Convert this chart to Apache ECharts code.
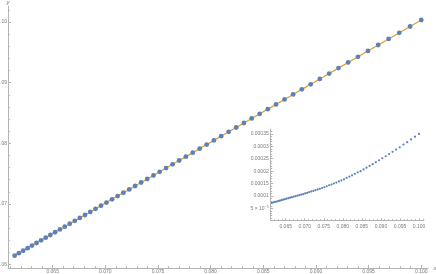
<!DOCTYPE html>
<html>
<head>
<meta charset="utf-8">
<script src="https://cdn.jsdelivr.net/npm/echarts@6/dist/echarts.min.js"></script>
<style>
html,body{margin:0;padding:0;background:#fff;}
#c{width:436px;height:274px;}
</style>
</head>
<body>
<div id="c"></div>
<script>
// ---- data ----
const xs = [0.06139, 0.06179, 0.06220, 0.06262, 0.06304, 0.06347, 0.06390, 0.06434, 0.06478, 0.06523,
  0.06569, 0.06615, 0.06662, 0.06710, 0.06758, 0.06807, 0.06857, 0.06907, 0.06959, 0.07011,
  0.07064, 0.07117, 0.07172, 0.07227, 0.07283, 0.07340, 0.07398, 0.07457, 0.07516, 0.07577,
  0.07639, 0.07701, 0.07765, 0.07830, 0.07896, 0.07963, 0.08031, 0.08100, 0.08171, 0.08243,
  0.08316, 0.08390, 0.08466, 0.08543, 0.08621, 0.08702, 0.08783, 0.08866, 0.08950, 0.09037,
  0.09125, 0.09214, 0.09306, 0.09399, 0.09494, 0.09591, 0.09690, 0.09791, 0.09894, 0.10000];
const mainY = [0.06146, 0.06186, 0.06228, 0.06270, 0.06312, 0.06355, 0.06398, 0.06443, 0.06487, 0.06532,
  0.06578, 0.06624, 0.06672, 0.06720, 0.06768, 0.06817, 0.06867, 0.06918, 0.06970, 0.07022,
  0.07075, 0.07129, 0.07184, 0.07239, 0.07295, 0.07353, 0.07411, 0.07470, 0.07530, 0.07591,
  0.07653, 0.07716, 0.07780, 0.07845, 0.07912, 0.07979, 0.08048, 0.08117, 0.08189, 0.08261,
  0.08335, 0.08410, 0.08486, 0.08564, 0.08642, 0.08724, 0.08806, 0.08890, 0.08974, 0.09062,
  0.09151, 0.09241, 0.09334, 0.09428, 0.09524, 0.09622, 0.09722, 0.09824, 0.09928, 0.10035];
const insetY = [0.000072, 0.000074, 0.000076, 0.000077, 0.000079, 0.000081, 0.000083, 0.000085, 0.000087, 0.000089,
  0.000091, 0.000093, 0.000095, 0.000097, 0.000099, 0.000101, 0.000103, 0.000105, 0.000107, 0.000110,
  0.000112, 0.000115, 0.000118, 0.000120, 0.000123, 0.000126, 0.000129, 0.000132, 0.000135, 0.000139,
  0.000143, 0.000146, 0.000150, 0.000154, 0.000159, 0.000163, 0.000167, 0.000173, 0.000178, 0.000183,
  0.000189, 0.000195, 0.000200, 0.000207, 0.000214, 0.000221, 0.000228, 0.000236, 0.000244, 0.000252,
  0.000260, 0.000269, 0.000278, 0.000287, 0.000296, 0.000307, 0.000317, 0.000328, 0.000339, 0.000350];

// tick values and labels
const mainXTicks = [0.065, 0.070, 0.075, 0.080, 0.085, 0.090, 0.095, 0.100];
const mainXTickLabels = ["0.065", "0.070", "0.075", "0.080", "0.085", "0.090", "0.095", "0.100"];
const mainXMinor = [0.061, 0.062, 0.063, 0.064, 0.066, 0.067, 0.068, 0.069, 0.071, 0.072, 0.073, 0.074,
  0.076, 0.077, 0.078, 0.079, 0.081, 0.082, 0.083, 0.084, 0.086, 0.087, 0.088, 0.089,
  0.091, 0.092, 0.093, 0.094, 0.096, 0.097, 0.098, 0.099];
const mainYTicks = [0.06, 0.07, 0.08, 0.09, 0.10];
const mainYTickLabels = ["0.06", "0.07", "0.08", "0.09", "0.10"];
const mainYMinor = [0.062, 0.064, 0.066, 0.068, 0.072, 0.074, 0.076, 0.078, 0.082, 0.084, 0.086, 0.088,
  0.092, 0.094, 0.096, 0.098, 0.102];
const insetXTicks = mainXTicks;
const insetXTickLabels = mainXTickLabels;
const insetXMinor = mainXMinor.concat([0.101]);
const insetYTicks = [0.00005, 0.0001, 0.00015, 0.0002, 0.00025, 0.0003, 0.00035];
const insetYTickLabels = ["5 × 10{s|−5}", "0.0001", "0.00015", "0.0002", "0.00025", "0.0003", "0.00035"];
const insetYMinor = [0.00001, 0.00002, 0.00003, 0.00004, 0.00006, 0.00007, 0.00008, 0.00009,
  0.00011, 0.00012, 0.00013, 0.00014, 0.00016, 0.00017, 0.00018, 0.00019,
  0.00021, 0.00022, 0.00023, 0.00024, 0.00026, 0.00027, 0.00028, 0.00029,
  0.00031, 0.00032, 0.00033, 0.00034, 0.00036];

// ---- styling ----
const AXIS = '#b4b4b4';
const LBL = '#7a7a7a';
const FONT = 'Liberation Sans';
const BLUE = '#5E81B5';
const ORANGE = '#E19C24';

function lookup(ticks, labels) {
  return function (v) {
    const i = ticks.findIndex(t => Math.abs(t - v) < 1e-9);
    return i >= 0 ? labels[i] : '';
  };
}
function majorAxis(o) {
  return Object.assign({
    type: 'value', scale: true,
    axisLine: { show: true, onZero: false, lineStyle: { color: AXIS, width: 1 } },
    splitLine: { show: false }
  }, o);
}
function minorAxis(o) {
  return Object.assign({
    type: 'value', scale: true,
    axisLine: { show: false, onZero: false },
    splitLine: { show: false },
    axisLabel: { show: false }
  }, o);
}

const MX = [0.06076, 0.10064];
const MY = [0.05942, 0.10266];
const IX = [0.06106, 0.10131];
const IY = [0, 0.00037];

const xyMain = xs.map((x, i) => [x, mainY[i]]);
const xyInset = xs.map((x, i) => [x, insetY[i]]);

const option = {
  animation: false,
  backgroundColor: '#fff',
  grid: [
    { left: 8, right: 8, top: 6, bottom: 6, containLabel: false, outerBoundsMode: 'none' },
    { left: 270.7, right: 12, top: 129, bottom: 53.3, containLabel: false, outerBoundsMode: 'none' }
  ],
  xAxis: [
    majorAxis({ gridIndex: 0, position: 'bottom', min: MX[0], max: MX[1],
      name: 'x', nameLocation: 'end', nameGap: 3,
      nameTextStyle: { color: LBL, fontSize: 6, fontFamily: FONT, fontStyle: 'italic', verticalAlign: 'middle' },
      axisTick: { show: true, inside: true, length: 3, lineStyle: { color: AXIS }, customValues: mainXTicks },
      axisLabel: { show: true, color: LBL, fontSize: 5, fontFamily: FONT, margin: 1.5, showMinLabel: true, showMaxLabel: true,
        customValues: mainXTicks, formatter: lookup(mainXTicks, mainXTickLabels) } }),
    minorAxis({ gridIndex: 0, position: 'bottom', min: MX[0], max: MX[1],
      axisTick: { show: true, inside: true, length: 1.8, lineStyle: { color: AXIS }, customValues: mainXMinor } }),
    majorAxis({ gridIndex: 1, position: 'bottom', min: IX[0], max: IX[1],
      axisTick: { show: true, inside: true, length: 2.5, lineStyle: { color: AXIS }, customValues: insetXTicks },
      axisLabel: { show: true, color: LBL, fontSize: 5, fontFamily: FONT, margin: 3, showMinLabel: true, showMaxLabel: true,
        customValues: insetXTicks, formatter: lookup(insetXTicks, insetXTickLabels) } }),
    minorAxis({ gridIndex: 1, position: 'bottom', min: IX[0], max: IX[1],
      axisTick: { show: true, inside: true, length: 1.5, lineStyle: { color: AXIS }, customValues: insetXMinor } })
  ],
  yAxis: [
    majorAxis({ gridIndex: 0, position: 'left', min: MY[0], max: MY[1],
      name: 'y', nameLocation: 'end', nameGap: 1,
      nameTextStyle: { color: LBL, fontSize: 6, fontFamily: FONT, fontStyle: 'italic' },
      axisTick: { show: true, inside: true, length: 3, lineStyle: { color: AXIS }, customValues: mainYTicks },
      axisLabel: { show: true, color: LBL, fontSize: 5, fontFamily: FONT, margin: 1, showMinLabel: true, showMaxLabel: true,
        customValues: mainYTicks, formatter: lookup(mainYTicks, mainYTickLabels) } }),
    minorAxis({ gridIndex: 0, position: 'left', min: MY[0], max: MY[1],
      axisTick: { show: true, inside: true, length: 1.8, lineStyle: { color: AXIS }, customValues: mainYMinor } }),
    majorAxis({ gridIndex: 1, position: 'left', min: IY[0], max: IY[1],
      axisTick: { show: true, inside: true, length: 2.5, lineStyle: { color: AXIS }, customValues: insetYTicks },
      axisLabel: { show: true, color: LBL, fontSize: 5, fontFamily: FONT, margin: 2, showMinLabel: true, showMaxLabel: true,
        customValues: insetYTicks, formatter: lookup(insetYTicks, insetYTickLabels),
        rich: { s: { fontSize: 3.6, color: LBL, fontFamily: FONT, verticalAlign: 'top', padding: [0, 0, 3, 0] } } } }),
    minorAxis({ gridIndex: 1, position: 'left', min: IY[0], max: IY[1],
      axisTick: { show: true, inside: true, length: 1.5, lineStyle: { color: AXIS }, customValues: insetYMinor } })
  ],
  series: [
    { type: 'line', xAxisIndex: 0, yAxisIndex: 0, data: xyMain, showSymbol: false, symbol: 'none',
      lineStyle: { color: ORANGE, width: 1.2 }, z: 2, silent: true },
    { type: 'scatter', xAxisIndex: 0, yAxisIndex: 0, data: xyMain, symbol: 'circle', symbolSize: 4.8,
      itemStyle: { color: BLUE, opacity: 1 }, z: 3, silent: true },
    { type: 'scatter', xAxisIndex: 2, yAxisIndex: 2, data: xyInset, symbol: 'circle', symbolSize: 2.2,
      itemStyle: { color: BLUE, opacity: 1 }, z: 3, silent: true }
  ]
};

const chart = echarts.init(document.getElementById('c'), null, { renderer: 'canvas' });
chart.setOption(option);
</script>
</body>
</html>
